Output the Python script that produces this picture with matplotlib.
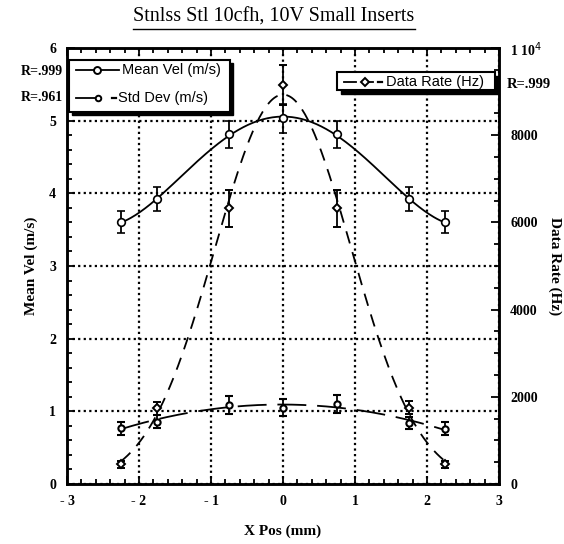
import numpy as np
import matplotlib.pyplot as plt
from matplotlib.ticker import MultipleLocator, FixedLocator

# probe positions (mm)
x_pos = np.array([-2.25, -1.75, -0.75, 0.0, 0.75, 1.75, 2.25])

# mean velocity (m/s) and error
mean_vel = np.array([3.60, 3.92, 4.81, 5.03, 4.81, 3.92, 3.60])
mean_vel_err = np.array([0.15, 0.17, 0.19, 0.20, 0.19, 0.17, 0.15])

# standard deviation (m/s) and error
std_dev = np.array([0.77, 0.86, 1.09, 1.05, 1.10, 0.84, 0.76])
std_dev_err = np.array([0.09, 0.085, 0.12, 0.12, 0.12, 0.085, 0.09])

# data rate (Hz) and error
data_rate = np.array([452, 1736, 6323, 9151, 6323, 1750, 452])
data_rate_err = np.array([80, 150, 425, 450, 425, 150, 80])

x_ticks = [-3, -2, -1, 0, 1, 2, 3]
x_tick_labels = ['- 3', '- 2', '- 1', '0', '1', '2', '3']
rate_ticks = [0, 2000, 4000, 6000, 8000, 10000]
rate_tick_labels = ['0', '2000', '4000', '6000', '8000', '1 10$^4$']

serif = 'Liberation Serif'
sans = 'Liberation Sans'

fig = plt.figure(figsize=(5.64, 5.44), dpi=100)
ax = fig.add_axes([0.1188, 0.1103, 0.766, 0.8015])
ax2 = ax.twinx()

# smooth fits through the measured points
xf = np.linspace(x_pos.min(), x_pos.max(), 200)
vel_fit = np.polyval(np.polyfit(x_pos, mean_vel, 4), xf)
std_fit = np.polyval(np.polyfit(x_pos, std_dev, 2), xf)
# gaussian fit to the data rate via weighted log-quadratic
gcoef = np.polyfit(x_pos, np.log(data_rate), 2, w=np.sqrt(data_rate))
rate_fit = np.exp(np.polyval(gcoef, xf))

lw = 1.3
ax.plot(xf, vel_fit, color='black', lw=lw, zorder=3)
ax.errorbar(x_pos, mean_vel, yerr=mean_vel_err, fmt='o', ms=5.5, mfc='white',
            mec='black', mew=1.2, ecolor='black', elinewidth=1.3, capsize=3,
            capthick=1.3, zorder=4)

ax.plot(xf, std_fit, color='black', lw=lw, dashes=(16, 6), zorder=3)
ax.errorbar(x_pos, std_dev, yerr=std_dev_err, fmt='o', ms=4.5, mfc='white',
            mec='black', mew=1.5, ecolor='black', elinewidth=1.3, capsize=3,
            capthick=1.3, zorder=4)

ax2.plot(xf, rate_fit, color='black', lw=lw, dashes=(7, 5), zorder=3)
ax2.errorbar(x_pos, data_rate, yerr=data_rate_err, fmt='D', ms=4, mfc='white',
             mec='black', mew=1.4, ecolor='black', elinewidth=1.3, capsize=3,
             capthick=1.3, zorder=4)

ax.set_xlim(-3, 3)
ax.set_ylim(0, 6)
ax2.set_ylim(0, 10000)

ax.xaxis.set_major_locator(FixedLocator(x_ticks))
ax.set_xticklabels(x_tick_labels)
ax.xaxis.set_minor_locator(MultipleLocator(0.2))
ax.yaxis.set_major_locator(MultipleLocator(1))
ax.yaxis.set_minor_locator(MultipleLocator(0.2))
ax2.yaxis.set_major_locator(FixedLocator(rate_ticks))
ax2.set_yticklabels(rate_tick_labels)
ax2.yaxis.set_minor_locator(MultipleLocator(500))

ax.tick_params(which='both', direction='in', top=True, right=False, width=1.3)
ax.tick_params(which='major', length=6, labelsize=10, pad=8)
ax.tick_params(which='minor', length=3.5)
ax2.tick_params(which='both', direction='in', width=1.3)
ax2.tick_params(which='major', length=6, labelsize=10, pad=8)
ax2.tick_params(which='minor', length=3.5)
for lab in ax.get_xticklabels() + ax.get_yticklabels() + ax2.get_yticklabels():
    lab.set_fontfamily(serif)
    lab.set_fontweight('bold')

ax.grid(True, which='major', color='black', linestyle=(0, (1, 1.5)), lw=1.6)
ax.set_axisbelow(True)
for sp in list(ax.spines.values()) + list(ax2.spines.values()):
    sp.set_linewidth(1.8)

ax.set_xlabel('X Pos (mm)', fontfamily=serif, fontweight='bold', fontsize=11,
              labelpad=12)
ax.set_ylabel('Mean Vel (m/s)', fontfamily=serif, fontweight='bold',
              fontsize=11, labelpad=8)
fig.text(0.984, 0.51, 'Data Rate (Hz)', ha='center', va='center',
         rotation=-90, fontfamily=serif, fontweight='bold', fontsize=11)

fig.text(0.486, 0.968, 'Stnlss Stl 10cfh, 10V Small Inserts', ha='center',
         va='center', fontfamily=serif, fontsize=14.5)
fig.add_artist(plt.Line2D([0.236, 0.736], [0.946, 0.946], color='black', lw=1))

# fit quality labels
fig.text(0.112, 0.869, 'R=.999', ha='right', va='center', fontfamily=serif,
         fontweight='bold', fontsize=10)
fig.text(0.112, 0.820, 'R=.961', ha='right', va='center', fontfamily=serif,
         fontweight='bold', fontsize=10)
fig.text(0.898, 0.845, 'R=.999', ha='left', va='center', fontfamily=serif,
         fontweight='bold', fontsize=10.5)


# legend boxes with drop shadow
def shadow_box(x0, y0, w, h):
    fig.add_artist(plt.Rectangle((x0 + 0.006, y0 - 0.006), w, h,
                                 transform=fig.transFigure, color='black',
                                 zorder=10))
    fig.add_artist(plt.Rectangle((x0, y0), w, h, transform=fig.transFigure,
                                 facecolor='white', edgecolor='black', lw=1.5,
                                 zorder=11))


def seg(x0, x1, y, lw=1.3):
    fig.add_artist(plt.Line2D([x0, x1], [y, y], color='black', lw=lw,
                              zorder=12))


def mark(x, y, marker, ms):
    fig.add_artist(plt.Line2D([x], [y], marker=marker, ms=ms, mfc='white',
                              mec='black', mew=1.4, zorder=13))


shadow_box(0.122, 0.795, 0.286, 0.095)
shadow_box(0.598, 0.834, 0.279, 0.033)

# Mean Vel entry
seg(0.135, 0.211, 0.871)
mark(0.172, 0.871, 'o', 5)
fig.text(0.216, 0.871, 'Mean Vel (m/s)', ha='left', va='center',
         fontfamily=sans, fontsize=10.5, zorder=13)

# Std Dev entry
seg(0.135, 0.172, 0.820)
mark(0.174, 0.820, 'o', 4)
seg(0.198, 0.205, 0.820, lw=1.6)
fig.text(0.210, 0.820, 'Std Dev (m/s)', ha='left', va='center',
         fontfamily=sans, fontsize=10.5, zorder=13)

# Data Rate entry
seg(0.610, 0.632, 0.850)
mark(0.648, 0.850, 'D', 4)
seg(0.648, 0.662, 0.850)
seg(0.670, 0.678, 0.850, lw=1.6)
fig.text(0.684, 0.850, 'Data Rate (Hz)', ha='left', va='center',
         fontfamily=sans, fontsize=10.5, zorder=13)

fig.savefig('out.png', dpi=100, facecolor='white')
